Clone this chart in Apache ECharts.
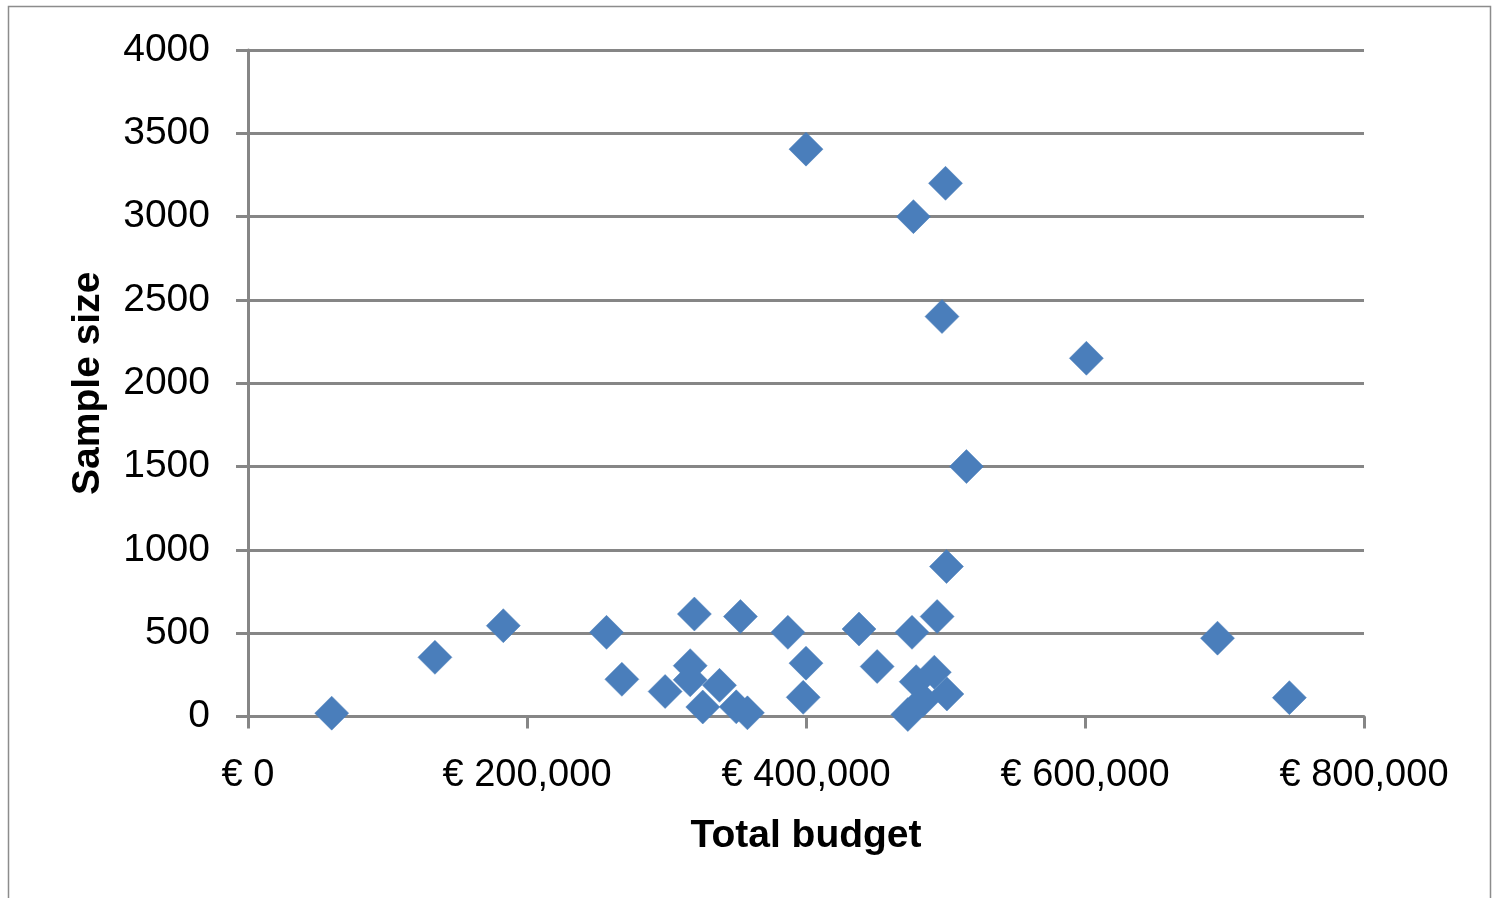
<!DOCTYPE html>
<html>
<head>
<meta charset="utf-8">
<script src="https://cdn.jsdelivr.net/npm/echarts@6/dist/echarts.min.js"></script>
<style>
html,body{margin:0;padding:0;background:#fff;}
#chart{width:1493px;height:898px;}
</style>
</head>
<body>
<div id="chart"></div>
<script>
// Data
const budget = [60000,134000,183000,257000,268000,299000,317000,317000,320000,326000,338000,350000,353000,358000,387000,398000,400000,400000,438000,451000,473000,476000,477000,479000,484000,492000,494000,497500,500000,500700,501000,515000,601000,695000,746500];
const sampleSize = [20,355,545,505,223,150,305,220,615,57,187,58,600,22,505,115,320,3405,525,300,12,505,3000,209,99,266,600,2400,3200,900,135,1500,2150,470,113];
const xTicks = [0,200000,400000,600000,800000];
const yTicks = [0,500,1000,1500,2000,2500,3000,3500,4000];
const xTitle = 'Total budget';
const yTitle = 'Sample size';

const points = budget.map((b,i)=>[b, sampleSize[i]]);
const font = '"Liberation Sans", Arial, sans-serif';
const gray = '#868686';

const chart = echarts.init(document.getElementById('chart'), null, {renderer:'canvas'});
chart.setOption({
  animation:false,
  backgroundColor:'#fff',
  graphic:[{
    type:'rect', silent:true,
    shape:{x:8.5,y:6.5,width:1482,height:900},
    style:{fill:'none',stroke:'#8c8c8c',lineWidth:1.5}
  }],
  grid:{left:248,top:50,right:129,bottom:181.5,containLabel:false},
  xAxis:{
    type:'value', min:xTicks[0], max:xTicks[xTicks.length-1], interval:200000,
    name:xTitle, nameLocation:'middle', nameGap:100,
    nameTextStyle:{fontFamily:font,fontSize:39,fontWeight:'bold',color:'#000'},
    axisLine:{show:true,lineStyle:{color:gray,width:3}},
    axisTick:{show:true,inside:false,length:12,lineStyle:{color:gray,width:3}},
    axisLabel:{fontFamily:font,fontSize:38,color:'#000',margin:40,
      formatter:v=>'€ '+v.toLocaleString('en-US')},
    splitLine:{show:false}
  },
  yAxis:{
    type:'value', min:yTicks[0], max:yTicks[yTicks.length-1], interval:500,
    name:yTitle, nameLocation:'middle', nameGap:140, nameRotate:90,
    nameTextStyle:{fontFamily:font,fontSize:39,fontWeight:'bold',color:'#000'},
    axisLine:{show:true,lineStyle:{color:gray,width:3}},
    axisTick:{show:true,inside:false,length:12,lineStyle:{color:gray,width:3}},
    axisLabel:{fontFamily:font,fontSize:39,color:'#000',margin:38,
      padding:[8,0,0,0],
      formatter:v=>String(v)},
    splitLine:{show:true,lineStyle:{color:gray,width:3}}
  },
  series:[{
    type:'scatter',
    data:points,
    symbol:'diamond',
    symbolSize:[34,34],
    itemStyle:{color:'#4a7ebb',borderColor:'#4a7ebb',borderWidth:0.5,opacity:1}
  }]
});
</script>
</body>
</html>
